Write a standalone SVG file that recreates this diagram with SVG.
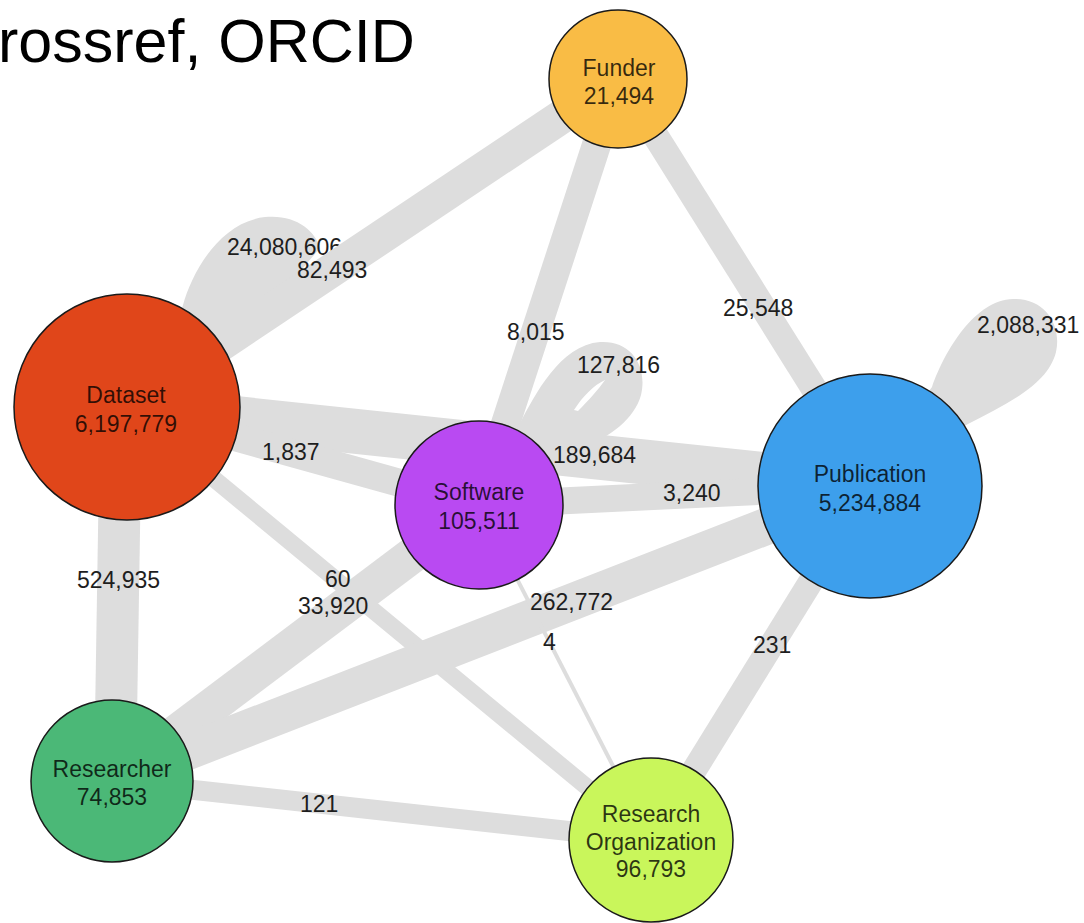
<svg xmlns="http://www.w3.org/2000/svg" width="1084" height="923" viewBox="0 0 1084 923">
<style>
.edge{stroke:#dddddd;fill:none;stroke-linecap:butt}
.loop{fill:#dddddd;fill-rule:evenodd}
.lbl{font-family:"Liberation Sans",Arial,sans-serif;font-size:23px;fill:#1e1e1e}
.node circle{stroke:#1a1a1a;stroke-width:1.5}
.node text{font-family:"Liberation Sans",Arial,sans-serif;font-size:23px;fill:#000;fill-opacity:0.78;text-anchor:middle}
.title{font-family:"Liberation Sans",Arial,sans-serif;font-size:61px;fill:#000}
</style>
<rect width="1084" height="923" fill="#ffffff"/>
<text class="title" x="-2" y="62">rossref, ORCID</text>
<g id="connectors">
  <path id="loop-dataset" class="loop" d="M175 330 L183 305 C192 272 220 222 265 217 C295 214 315 230 320 248 L250 330 Z"/>
  <text class="lbl" x="227" y="255">24,080,606</text>
  <line class="edge" x1="127" y1="407" x2="618" y2="79" stroke-width="34"/>
  <line class="edge" x1="618" y1="79" x2="479" y2="505" stroke-width="29"/>
  <line class="edge" x1="620" y1="79" x2="875" y2="486" stroke-width="26"/>
  <line class="edge" x1="127" y1="407" x2="870" y2="486" stroke-width="45"/>
  <line class="edge" x1="127" y1="407" x2="479" y2="505" stroke-width="28"/>
  <line class="edge" x1="479" y1="505" x2="870" y2="486" stroke-width="27"/>
  <line class="edge" x1="121" y1="407" x2="115" y2="781" stroke-width="42"/>
  <line class="edge" x1="127" y1="407" x2="651" y2="840" stroke-width="17"/>
  <line class="edge" x1="479" y1="505" x2="112" y2="781" stroke-width="36"/>
  <line class="edge" x1="870" y1="486" x2="112" y2="781" stroke-width="37"/>
  <line class="edge" x1="479" y1="505" x2="651" y2="840" stroke-width="4"/>
  <line class="edge" x1="870" y1="486" x2="651" y2="840" stroke-width="25"/>
  <line class="edge" x1="112" y1="781" x2="651" y2="840" stroke-width="20"/>
  <path id="loop-publication" class="loop" d="M915 410 L932 387 C945 350 975 300 1013 299 C1045 298 1062 325 1056 352 C1048 385 1005 405 968 424 L940 440 Z"/>
  <path id="loop-software" class="loop" d="M505 445 L520 423 C535 395 560 345 600 342 C630 340 648 365 641 395 C635 418 610 438 580 448 L530 465 Z M574 410 C583 396 594 385 605 380 C598 390 588 401 578 411 Z"/>
  <text class="lbl" x="297" y="278">82,493</text>
  <text class="lbl" x="507" y="340">8,015</text>
  <text class="lbl" x="577" y="373">127,816</text>
  <text class="lbl" x="723" y="316">25,548</text>
  <text class="lbl" x="977" y="333">2,088,331</text>
  <text class="lbl" x="553" y="463">189,684</text>
  <text class="lbl" x="663" y="501">3,240</text>
  <text class="lbl" x="262" y="460">1,837</text>
  <text class="lbl" x="77" y="588">524,935</text>
  <text class="lbl" x="325" y="587">60</text>
  <text class="lbl" x="298" y="614">33,920</text>
  <text class="lbl" x="530" y="610">262,772</text>
  <text class="lbl" x="543" y="650">4</text>
  <text class="lbl" x="753" y="653">231</text>
  <text class="lbl" x="300" y="812">121</text>
</g>
<g id="node-funder" class="node">
  <circle cx="618" cy="79" r="69" fill="#F9BC45"/>
  <text x="619" y="76">Funder</text>
  <text x="619" y="104">21,494</text>
</g>
<g id="node-dataset" class="node">
  <circle cx="127" cy="407" r="113" fill="#E0461A"/>
  <text x="126" y="403">Dataset</text>
  <text x="126" y="432">6,197,779</text>
</g>
<g id="node-software" class="node">
  <circle cx="479" cy="505" r="84" fill="#B94AF2"/>
  <text x="479" y="500">Software</text>
  <text x="479" y="529">105,511</text>
</g>
<g id="node-publication" class="node">
  <circle cx="870" cy="486" r="112" fill="#3D9FEC"/>
  <text x="870" y="482">Publication</text>
  <text x="870" y="511">5,234,884</text>
</g>
<g id="node-researcher" class="node">
  <circle cx="112" cy="781" r="81" fill="#4BB877"/>
  <text x="112" y="777">Researcher</text>
  <text x="112" y="805">74,853</text>
</g>
<g id="node-research-organization" class="node">
  <circle cx="651" cy="840" r="82" fill="#C9F65B"/>
  <text x="651" y="822">Research</text>
  <text x="651" y="850">Organization</text>
  <text x="651" y="877">96,793</text>
</g>
</svg>
